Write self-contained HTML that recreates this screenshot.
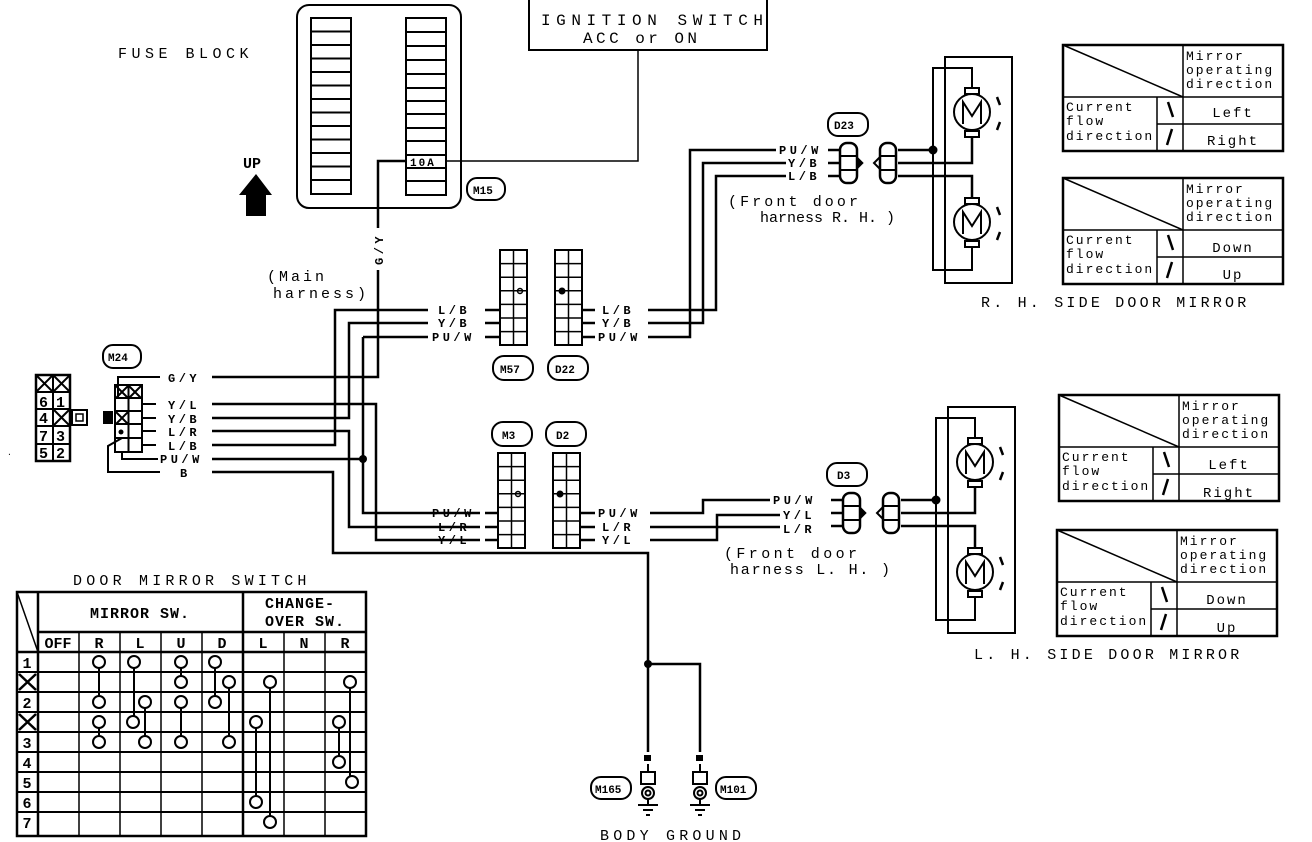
<!DOCTYPE html>
<html><head><meta charset="utf-8"><style>
html,body{margin:0;padding:0;background:#fff}
svg{display:block}
text{font-family:"Liberation Mono",monospace;fill:#000}
.s{font-size:11px;font-weight:bold;letter-spacing:0px}
.w{font-size:12px;font-weight:bold;letter-spacing:3.5px}
.m{font-size:15px;letter-spacing:3px}
.t{font-size:13px;letter-spacing:2px}
</style></head><body>
<svg width="1312" height="842" viewBox="0 0 1312 842" xmlns="http://www.w3.org/2000/svg">
<defs>
<g id="grid">
<rect x="0" y="0" width="27" height="95" fill="none" stroke="#000" stroke-width="2"/>
<line x1="13.5" y1="0" x2="13.5" y2="95" stroke="#000" stroke-width="1.5"/>
<path d="M0,13.6H27M0,27.2H27M0,40.8H27M0,54.4H27M0,68H27M0,81.6H27" stroke="#000" stroke-width="1.5"/>
</g>
<g id="tbl">
<rect x="0" y="0" width="220" height="106" fill="none" stroke="#000" stroke-width="2.5"/>
<line x1="0" y1="0" x2="120" y2="52" stroke="#000" stroke-width="1.5"/>
<line x1="120" y1="0" x2="120" y2="106" stroke="#000" stroke-width="1.5"/>
<line x1="0" y1="52" x2="220" y2="52" stroke="#000" stroke-width="1.5"/>
<line x1="94" y1="52" x2="94" y2="106" stroke="#000" stroke-width="1.5"/>
<line x1="94" y1="79" x2="220" y2="79" stroke="#000" stroke-width="1.5"/>
<text class="t" x="123" y="15">Mirror</text>
<text class="t" x="123" y="29">operating</text>
<text class="t" x="123" y="43">direction</text>
<text class="t" x="3" y="66">Current</text>
<text class="t" x="3" y="80">flow</text>
<text class="t" x="3" y="95">direction</text>
<path d="M105,57 L110,72 M109,84 L104,100" stroke="#000" stroke-width="2.5"/>
</g>
<g id="mirror" fill="none" stroke="#000">
<rect x="945" y="57" width="67" height="226" stroke-width="2"/>
<path d="M972,88 V68 H933 V270 H972 V248" stroke-width="2"/>
<path d="M972,138 V163 H898 M972,198 V176 H898 M898,150 H933" stroke-width="2.5"/>
<circle cx="933" cy="150" r="4" fill="#000"/>
<circle cx="972" cy="112" r="18" fill="#fff" stroke-width="2"/>
<rect x="965" y="88" width="14" height="6" fill="#fff" stroke-width="2"/>
<rect x="965" y="131" width="14" height="6" fill="#fff" stroke-width="2"/>
<path d="M963,124 V102 L972,116 L981,102 V124" stroke-width="2"/>
<circle cx="972" cy="222" r="18" fill="#fff" stroke-width="2"/>
<rect x="965" y="198" width="14" height="6" fill="#fff" stroke-width="2"/>
<rect x="965" y="241" width="14" height="6" fill="#fff" stroke-width="2"/>
<path d="M963,234 V212 L972,226 L981,212 V234" stroke-width="2"/>
<path d="M997,97 l3,8 M1000,122 l-3,8 M997,207 l3,8 M1000,232 l-3,8" stroke-width="2.5"/>
<rect x="840" y="143" width="17" height="40" rx="7" fill="#fff" stroke-width="2.5"/>
<path d="M840,156 H857 M840,170 H857" stroke-width="2"/>
<path d="M857,157 L863,163 L857,169Z" fill="#000"/>
<rect x="880" y="143" width="16" height="40" rx="7" fill="#fff" stroke-width="2.5"/>
<path d="M880,156 H896 M880,170 H896 M880,157 L874,163 L880,169" stroke-width="2"/>
<path d="M828,150 H840 M828,163 H840 M828,176 H840" stroke-width="2.5"/>
</g>
</defs>

<!-- Fuse block -->
<text class="m" x="118" y="58" style="letter-spacing:4.5px">FUSE BLOCK</text>
<text x="243" y="168" style="font-size:15px;font-weight:bold">UP</text>
<path d="M256,174 L272,195 L266,195 L266,216 L246,216 L246,195 L239,195Z" fill="#000"/>
<rect x="297" y="5" width="164" height="203" rx="12" fill="none" stroke="#000" stroke-width="2"/>
<g fill="none" stroke="#000" stroke-width="2">
<rect x="311" y="18" width="40" height="176"/>
<path d="M311,31.5H351M311,45H351M311,58.5H351M311,72H351M311,85.5H351M311,99H351M311,112.5H351M311,126H351M311,139.5H351M311,153H351M311,166.5H351M311,180H351"/>
<rect x="406" y="18" width="40" height="177"/>
<path d="M406,32H446M406,46H446M406,60H446M406,74H446M406,88H446M406,101H446M406,114H446M406,128H446M406,141H446M406,155H446M406,168H446M406,181H446"/>
</g>
<text x="410" y="166" style="font-size:11px;font-weight:bold;letter-spacing:2px">10A</text>
<rect x="467" y="178" width="38" height="22" rx="10" fill="none" stroke="#000" stroke-width="2"/>
<text class="s" x="473" y="194">M15</text>
<rect x="529" y="-2" width="238" height="52" fill="none" stroke="#000" stroke-width="2"/>
<text x="541" y="25" textLength="222" lengthAdjust="spacing" style="font-size:16px">IGNITION SWITCH</text>
<text x="583" y="43" textLength="114" lengthAdjust="spacing" style="font-size:16px">ACC or ON</text>
<path d="M446,161 H638 V50" fill="none" stroke="#000" stroke-width="1.5"/>

<!-- wires left -->
<g fill="none" stroke="#000" stroke-width="2.5">
<path d="M406,161 H378 V228 M378,270 V377 H212"/>
<path d="M212,404 H376 V540 H480"/>
<path d="M212,418 H349 V323 H428"/>
<path d="M212,431 H349 V527 H480"/>
<path d="M212,445 H335 V310 H428"/>
<path d="M212,459 H363 M363,337 H428 M363,337 V513 H480"/>
<path d="M212,472 H333 V553 H648 V752"/>
<path d="M648,664 H700 V752"/>
</g>
<circle cx="363" cy="459" r="4"/>
<circle cx="648" cy="664" r="4"/>
<text class="w" transform="translate(383,265) rotate(-90)">G/Y</text>
<text class="m" x="267" y="281">(Main</text>
<text class="m" x="273" y="298">harness)</text>

<!-- M24 -->
<rect x="103" y="345" width="38" height="23" rx="10" fill="none" stroke="#000" stroke-width="2"/>
<text class="s" x="108" y="361">M24</text>
<g fill="none" stroke="#000" stroke-width="2">
<rect x="115" y="385" width="27" height="67"/>
<path d="M128.5,385 V452 M115,398 H142 M115,411 H142 M115,424 H142 M115,438 H142"/>
<path d="M116,386 l12,12 M128,386 l-12,12 M129,386 l12,12 M141,386 l-12,12 M116,412 l12,12 M128,412 l-12,12"/>
<path d="M142,404 H156 M142,418 H156 M142,431 H156 M142,445 H156"/>
<path d="M118,398 V377 H160 M122,438 L108,446 V472 H160 M122,452 V459 H158"/>
<rect x="36" y="375" width="34" height="86" stroke-width="2.5"/>
<path d="M53,375 V461 M36,392 H70 M36,409 H70 M36,426 H70 M36,444 H70"/>
<path d="M36,375 l17,17 M53,375 l-17,17 M53,375 l17,17 M70,375 l-17,17 M53,409 l17,17 M70,409 l-17,17"/>
<rect x="72" y="410" width="15" height="15"/>
<rect x="76" y="414" width="7" height="7" stroke-width="1.5"/>
</g>
<rect x="103" y="411" width="10" height="13" fill="#000"/>
<circle cx="121" cy="432" r="2.5"/>
<g style="font-size:15px;font-weight:bold">
<text x="39" y="407">6</text><text x="56" y="407">1</text>
<text x="39" y="423">4</text>
<text x="39" y="441">7</text><text x="56" y="441">3</text>
<text x="39" y="458">5</text><text x="56" y="458">2</text>
</g>
<g class="w">
<text x="168" y="382">G/Y</text><text x="168" y="409">Y/L</text><text x="168" y="423">Y/B</text>
<text x="168" y="436">L/R</text><text x="168" y="450">L/B</text><text x="160" y="463">PU/W</text>
<text x="180" y="477">B</text>
</g>
<text x="7" y="455" style="font-size:8px">.</text>

<!-- connectors -->
<use href="#grid" x="500" y="250"/>
<use href="#grid" x="555" y="250"/>
<use href="#grid" x="498" y="453"/>
<use href="#grid" x="553" y="453"/>
<circle cx="520" cy="291" r="2.5" fill="none" stroke="#000" stroke-width="1.5"/>
<circle cx="562" cy="291" r="3.5"/>
<circle cx="518" cy="494" r="2.5" fill="none" stroke="#000" stroke-width="1.5"/>
<circle cx="560" cy="494" r="3.5"/>
<g fill="none" stroke="#000" stroke-width="2.5">
<path d="M485,310 H500 M485,323 H500 M485,337 H500 M485,513 H498 M485,527 H498 M485,540 H498"/>
<path d="M582,310 H595 M582,323 H595 M582,337 H595 M580,513 H595 M580,527 H595 M580,540 H595"/>
</g>
<g fill="none" stroke="#000" stroke-width="2">
<rect x="493" y="356" width="40" height="24" rx="11"/>
<rect x="548" y="356" width="40" height="24" rx="11"/>
<rect x="492" y="422" width="40" height="24" rx="11"/>
<rect x="546" y="422" width="40" height="24" rx="11"/>
</g>
<g class="s">
<text x="500" y="373">M57</text><text x="555" y="373">D22</text>
<text x="502" y="439">M3</text><text x="556" y="439">D2</text>
</g>
<g class="w">
<text x="438" y="314">L/B</text><text x="438" y="327">Y/B</text><text x="432" y="341">PU/W</text>
<text x="432" y="517">PU/W</text><text x="438" y="531">L/R</text><text x="438" y="544">Y/L</text>
<text x="602" y="314">L/B</text><text x="602" y="327">Y/B</text><text x="598" y="341">PU/W</text>
<text x="598" y="517">PU/W</text><text x="602" y="531">L/R</text><text x="602" y="544">Y/L</text>
</g>

<!-- right side wires -->
<g fill="none" stroke="#000" stroke-width="2.5">
<path d="M648,337 H690 V150 H776"/>
<path d="M648,323 H703 V163 H786"/>
<path d="M648,310 H716 V176 H786"/>
<path d="M650,513 H703 V500 H770"/>
<path d="M650,540 H717 V515 H780"/>
<path d="M650,527 H780"/>
</g>
<use href="#mirror"/>
<use href="#mirror" transform="translate(3,350)"/>
<rect x="828" y="113" width="40" height="23" rx="10" fill="#fff" stroke="#000" stroke-width="2"/>
<text class="s" x="834" y="129">D23</text>
<rect x="827" y="463" width="40" height="23" rx="10" fill="#fff" stroke="#000" stroke-width="2"/>
<text class="s" x="837" y="479">D3</text>
<g class="w">
<text x="779" y="154">PU/W</text><text x="788" y="167">Y/B</text><text x="788" y="180">L/B</text>
<text x="773" y="504">PU/W</text><text x="783" y="519">Y/L</text><text x="783" y="533">L/R</text>
</g>
<text x="728" y="206" textLength="130" lengthAdjust="spacing" style="font-size:15px">(Front door</text>
<text x="760" y="222" textLength="135" lengthAdjust="spacing" style="font-size:15px">harness R. H. )</text>
<text x="724" y="558" textLength="133" lengthAdjust="spacing" style="font-size:15px">(Front door</text>
<text x="730" y="574" textLength="160" lengthAdjust="spacing" style="font-size:15px">harness L. H. )</text>
<text class="m" x="981" y="307" style="letter-spacing:3.2px">R. H.  SIDE DOOR MIRROR</text>
<text class="m" x="974" y="659" style="letter-spacing:3.2px">L. H.  SIDE DOOR MIRROR</text>

<use href="#tbl" x="1063" y="45"/>
<use href="#tbl" x="1063" y="178"/>
<use href="#tbl" x="1059" y="395"/>
<use href="#tbl" x="1057" y="530"/>
<g class="t" text-anchor="middle" style="font-size:14px">
<text x="1233" y="117">Left</text><text x="1233" y="145">Right</text>
<text x="1233" y="252">Down</text><text x="1233" y="279">Up</text>
<text x="1229" y="469">Left</text><text x="1229" y="497">Right</text>
<text x="1227" y="604">Down</text><text x="1227" y="632">Up</text>
</g>

<!-- ground -->
<g fill="none" stroke="#000" stroke-width="2">
<rect x="641" y="772" width="14" height="12"/>
<circle cx="648" cy="793" r="6"/><circle cx="648" cy="793" r="2.5"/>
<path d="M648,799 V805 M638,805 H658 M643,810 H653 M646,815 H650"/>
<rect x="693" y="772" width="14" height="12"/>
<circle cx="700" cy="793" r="6"/><circle cx="700" cy="793" r="2.5"/>
<path d="M700,799 V805 M690,805 H710 M695,810 H705 M698,815 H702"/>
<path d="M648,764 V772 M700,764 V772"/>
<rect x="591" y="777" width="40" height="22" rx="10"/>
<rect x="716" y="777" width="40" height="22" rx="10"/>
</g>
<rect x="644" y="755" width="7" height="6"/><rect x="696" y="755" width="7" height="6"/>
<text class="s" x="595" y="793">M165</text>
<text class="s" x="720" y="793">M101</text>
<text class="m" x="600" y="840" style="letter-spacing:4.2px">BODY GROUND</text>

<!-- switch table -->
<text class="m" x="73" y="585" style="letter-spacing:4.2px">DOOR MIRROR SWITCH</text>
<g fill="none" stroke="#000" stroke-width="2.5">
<rect x="17" y="592" width="349" height="244"/>
<line x1="17" y1="592" x2="38" y2="652" stroke-width="1.5"/>
<path d="M38,592 V836 M243,592 V836 M38,632 H366 M17,652 H366"/>
<path d="M79,632 V836 M120,632 V836 M161,632 V836 M202,632 V836 M284,632 V836 M325,632 V836" stroke-width="1.5"/>
<path d="M17,672 H366 M17,692 H366 M17,712 H366 M17,732 H366 M17,752 H366 M17,772 H366 M17,792 H366 M17,812 H366" stroke-width="2"/>
<path d="M19,674 l17,16 M36,674 l-17,16 M19,714 l17,16 M36,714 l-17,16"/>
<path d="M99,662 V702 M99,722 V742 M134,662 V722 M145,702 V742 M181,662 V682 M181,702 V742 M215,662 V702 M229,682 V742 M270,682 V822 M256,722 V802 M350,682 V782 M339,722 V762" stroke-width="2"/>
</g>
<g fill="#fff" stroke="#000" stroke-width="2">
<circle cx="99" cy="662" r="6"/><circle cx="134" cy="662" r="6"/><circle cx="181" cy="662" r="6"/><circle cx="215" cy="662" r="6"/>
<circle cx="181" cy="682" r="6"/><circle cx="229" cy="682" r="6"/><circle cx="270" cy="682" r="6"/><circle cx="350" cy="682" r="6"/>
<circle cx="99" cy="702" r="6"/><circle cx="145" cy="702" r="6"/><circle cx="181" cy="702" r="6"/><circle cx="215" cy="702" r="6"/>
<circle cx="99" cy="722" r="6"/><circle cx="133" cy="722" r="6"/><circle cx="256" cy="722" r="6"/><circle cx="339" cy="722" r="6"/>
<circle cx="99" cy="742" r="6"/><circle cx="145" cy="742" r="6"/><circle cx="181" cy="742" r="6"/><circle cx="229" cy="742" r="6"/>
<circle cx="339" cy="762" r="6"/><circle cx="352" cy="782" r="6"/><circle cx="256" cy="802" r="6"/><circle cx="270" cy="822" r="6"/>
</g>
<g style="font-size:15px;font-weight:bold;letter-spacing:1px">
<text x="90" y="618">MIRROR SW.</text>
<text x="265" y="608">CHANGE-</text>
<text x="265" y="626">OVER SW.</text>
</g>
<g text-anchor="middle" style="font-size:15px;font-weight:bold">
<text x="58" y="648">OFF</text><text x="99" y="648">R</text><text x="140" y="648">L</text><text x="181" y="648">U</text>
<text x="222" y="648">D</text><text x="263" y="648">L</text><text x="304" y="648">N</text><text x="345" y="648">R</text>
<text x="27" y="668">1</text><text x="27" y="708">2</text><text x="27" y="748">3</text><text x="27" y="768">4</text>
<text x="27" y="788">5</text><text x="27" y="808">6</text><text x="27" y="828">7</text>
</g>
</svg>
</body></html>
